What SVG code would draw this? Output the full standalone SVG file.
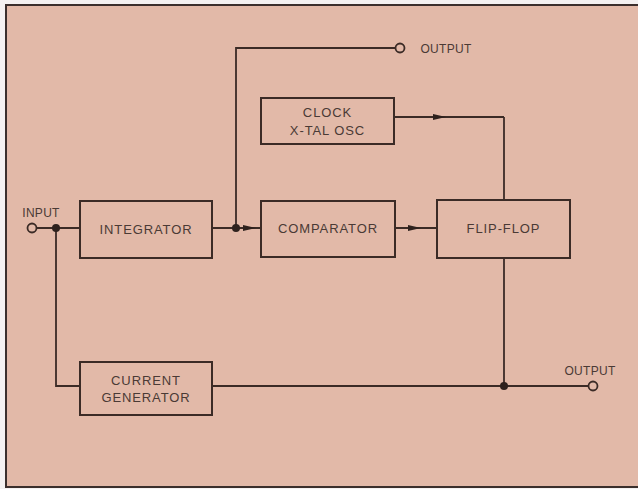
<svg xmlns="http://www.w3.org/2000/svg" width="638" height="489" viewBox="0 0 638 489">
<style>
.box{fill:none;stroke:#3b2b26;stroke-width:2}
.ln{fill:none;stroke:#3b2b26;stroke-width:1.8}
.t{font-family:"Liberation Sans",Arial,sans-serif;font-size:13px;letter-spacing:0.9px;fill:#4a3a35;text-anchor:middle}
.s{font-size:12px;letter-spacing:0.3px}
.term{fill:#e2b9a8;stroke:#3b2b26;stroke-width:1.8}
.dot{fill:#2e211d}
.ah{fill:#2e211d}
</style>
<rect x="0" y="0" width="638" height="489" fill="#f4f1f1"/>
<rect x="6" y="5" width="700" height="482" fill="#e2b9a8" stroke="#3b2f2c" stroke-width="2"/>
<g id="connectors">
<polyline class="ln" points="236,228 236,48 395,48"/>
<line class="ln" x1="394" y1="117" x2="504" y2="117"/>
<line class="ln" x1="504" y1="117" x2="504" y2="200"/>
<polygon class="ah" points="433,114 446,117 433,120"/>
<line class="ln" x1="37" y1="228" x2="80" y2="228"/>
<line class="ln" x1="212" y1="228" x2="261" y2="228"/>
<polygon class="ah" points="243,225 256,228 243,231"/>
<line class="ln" x1="395" y1="228" x2="437" y2="228"/>
<polygon class="ah" points="408,225 421,228 408,231"/>
<polyline class="ln" points="56,228 56,386 80,386"/>
<line class="ln" x1="212" y1="386" x2="588" y2="386"/>
<line class="ln" x1="504" y1="258" x2="504" y2="386"/>
<circle class="dot" cx="56" cy="228" r="4"/>
<circle class="dot" cx="236" cy="228" r="4"/>
<circle class="dot" cx="504" cy="386" r="4"/>
</g>
<g id="input">
<circle class="term" cx="32" cy="228" r="4.5"/>
<text class="t s" x="41" y="217">INPUT</text>
</g>
<g id="output-top">
<circle class="term" cx="400" cy="48" r="4.5"/>
<text class="t s" x="446" y="53">OUTPUT</text>
</g>
<g id="output-bottom">
<circle class="term" cx="593" cy="386" r="4.5"/>
<text class="t s" x="590" y="375">OUTPUT</text>
</g>
<g id="clock">
<rect class="box" x="261" y="98" width="133" height="46"/>
<text class="t" x="327.5" y="117">CLOCK</text>
<text class="t" x="327.5" y="135">X-TAL OSC</text>
</g>
<g id="integrator">
<rect class="box" x="80" y="201" width="132" height="57"/>
<text class="t" x="146" y="234">INTEGRATOR</text>
</g>
<g id="comparator">
<rect class="box" x="261" y="201" width="134" height="56"/>
<text class="t" x="328" y="233">COMPARATOR</text>
</g>
<g id="flipflop">
<rect class="box" x="437" y="200" width="133" height="58"/>
<text class="t" x="503.5" y="233">FLIP-FLOP</text>
</g>
<g id="current-generator">
<rect class="box" x="80" y="362" width="132" height="53"/>
<text class="t" x="146" y="385">CURRENT</text>
<text class="t" x="146" y="402">GENERATOR</text>
</g>
</svg>
